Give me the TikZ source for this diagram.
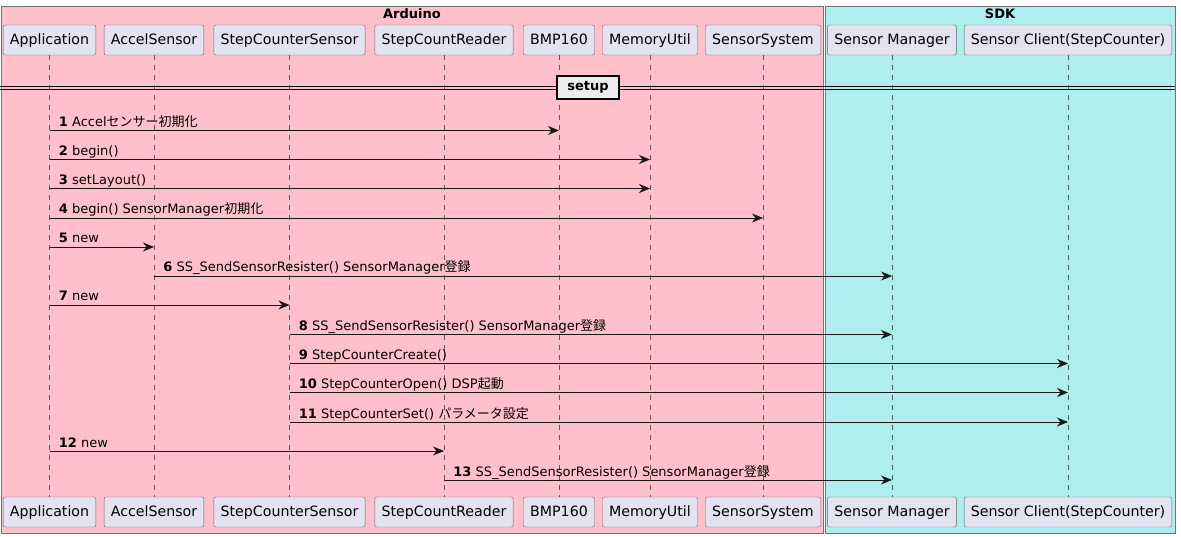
\documentclass[tikz,border=0pt]{standalone}
\usepackage{fontspec}
\setmainfont{DejaVu Sans}
\newfontfamily\cjk{Noto Sans CJK JP}
\usepackage{xcolor}
\usetikzlibrary{arrows.meta}
\definecolor{ardbg}{HTML}{FFC0CB}
\definecolor{sdkbg}{HTML}{AFEEEE}
\definecolor{partbg}{HTML}{E2E2F0}
\definecolor{linec}{HTML}{181818}
\newcommand{\jp}[1]{{\cjk #1}}

\begin{document}
\begin{tikzpicture}[x=1pt,y=-1pt,
          part/.style={draw=black!60,fill=partbg,rounded corners=2pt,minimum height=30pt,inner xsep=6.7pt,text height=12.5pt,text depth=3pt,font=\fontsize{14.2}{16}\selectfont},
          frame/.style={draw=black!55,line width=0.8pt},
          life/.style={draw=black!65,dash pattern=on 5pt off 5pt,line width=0.5pt},
          msg/.style={draw=linec,line width=0.8pt,-{Stealth[length=11pt,width=9pt,inset=3.5pt]}},
          lbl/.style={anchor=base west,inner sep=0pt,xshift=9pt,yshift=4pt,font=\fontsize{13}{15}\selectfont},
          grp/.style={font=\bfseries\fontsize{13}{15}\selectfont}]
        \useasboundingbox (0,0) rectangle (1181,537);
        % groups
        \draw[frame,fill=ardbg] (1,6) rectangle (823.5,533);
        \draw[frame,fill=sdkbg] (825,6) rectangle (1175,533);
        \node[grp] (ard) at (412,14) {Arduino};
        \node[grp] (sdk) at (1000,14) {SDK};
        % participants, top
        \node[part] (app) at (49.5,40)  {Application};
        \node[part] (acc) at (154,40)   {AccelSensor};
        \node[part] (scs) at (289.5,40) {StepCounterSensor};
        \node[part] (rdr) at (444,40)   {StepCountReader};
        \node[part] (bmp) at (559,40)   {BMP160};
        \node[part] (mem) at (650,40)   {MemoryUtil};
        \node[part] (sys) at (763,40)   {SensorSystem};
        \node[part] (mgr) at (892,40)   {Sensor Manager};
        \node[part] (cli) at (1068,40)  {Sensor Client(StepCounter)};
        % participants, bottom
        \node[part] (appB) at (49.5,512)  {Application};
        \node[part] (accB) at (154,512)   {AccelSensor};
        \node[part] (scsB) at (289.5,512) {StepCounterSensor};
        \node[part] (rdrB) at (444,512)   {StepCountReader};
        \node[part] (bmpB) at (559,512)   {BMP160};
        \node[part] (memB) at (650,512)   {MemoryUtil};
        \node[part] (sysB) at (763,512)   {SensorSystem};
        \node[part] (mgrB) at (892,512)   {Sensor Manager};
        \node[part] (cliB) at (1068,512)  {Sensor Client(StepCounter)};
        % lifelines
        \draw[life] (app) -- (appB);
        \draw[life] (acc) -- (accB);
        \draw[life] (scs) -- (scsB);
        \draw[life] (rdr) -- (rdrB);
        \draw[life] (bmp) -- (bmpB);
        \draw[life] (mem) -- (memB);
        \draw[life] (sys) -- (sysB);
        \draw[life] (mgr) -- (mgrB);
        \draw[life] (cli) -- (cliB);
        % divider
        \coordinate (dl) at (0,88.2);
        \coordinate (dr) at (1175,88.2);
        \draw[line width=1.2pt] ([yshift=1.7pt]dl) -- ([yshift=1.7pt]dr);
        \draw[line width=1.2pt] ([yshift=-1.7pt]dl) -- ([yshift=-1.7pt]dr);
        \node[draw,line width=1.5pt,fill=black!7,minimum width=62pt,minimum height=23pt,grp] (setup) at (588,87.5) {setup};
        % message rows
        \coordinate (r1)  at (0,130.5);
        \coordinate (r2)  at (0,159.5);
        \coordinate (r3)  at (0,188.5);
        \coordinate (r4)  at (0,218);
        \coordinate (r5)  at (0,247);
        \coordinate (r6)  at (0,276);
        \coordinate (r7)  at (0,305);
        \coordinate (r8)  at (0,334.5);
        \coordinate (r9)  at (0,363.5);
        \coordinate (r10) at (0,392.5);
        \coordinate (r11) at (0,422);
        \coordinate (r12) at (0,451);
        \coordinate (r13) at (0,480);
        % messages
        \draw[msg] (app |- r1)  -- (bmp |- r1)  node[lbl,pos=0]{\textbf{1} Accel\jp{センサー初期化}};
        \draw[msg] (app |- r2)  -- (mem |- r2)  node[lbl,pos=0]{\textbf{2} begin()};
        \draw[msg] (app |- r3)  -- (mem |- r3)  node[lbl,pos=0]{\textbf{3} setLayout()};
        \draw[msg] (app |- r4)  -- (sys |- r4)  node[lbl,pos=0]{\textbf{4} begin() SensorManager\jp{初期化}};
        \draw[msg] (app |- r5)  -- (acc |- r5)  node[lbl,pos=0]{\textbf{5} new};
        \draw[msg] (acc |- r6)  -- (mgr |- r6)  node[lbl,pos=0]{\textbf{6} SS\_SendSensorResister() SensorManager\jp{登録}};
        \draw[msg] (app |- r7)  -- (scs |- r7)  node[lbl,pos=0]{\textbf{7} new};
        \draw[msg] (scs |- r8)  -- (mgr |- r8)  node[lbl,pos=0]{\textbf{8} SS\_SendSensorResister() SensorManager\jp{登録}};
        \draw[msg] (scs |- r9)  -- (cli |- r9)  node[lbl,pos=0]{\textbf{9} StepCounterCreate()};
        \draw[msg] (scs |- r10) -- (cli |- r10) node[lbl,pos=0]{\textbf{10} StepCounterOpen() DSP\jp{起動}};
        \draw[msg] (scs |- r11) -- (cli |- r11) node[lbl,pos=0]{\textbf{11} StepCounterSet() \jp{パラメータ設定}};
        \draw[msg] (app |- r12) -- (rdr |- r12) node[lbl,pos=0]{\textbf{12} new};
        \draw[msg] (rdr |- r13) -- (mgr |- r13) node[lbl,pos=0]{\textbf{13} SS\_SendSensorResister() SensorManager\jp{登録}};
      \end{tikzpicture}
\end{document}
